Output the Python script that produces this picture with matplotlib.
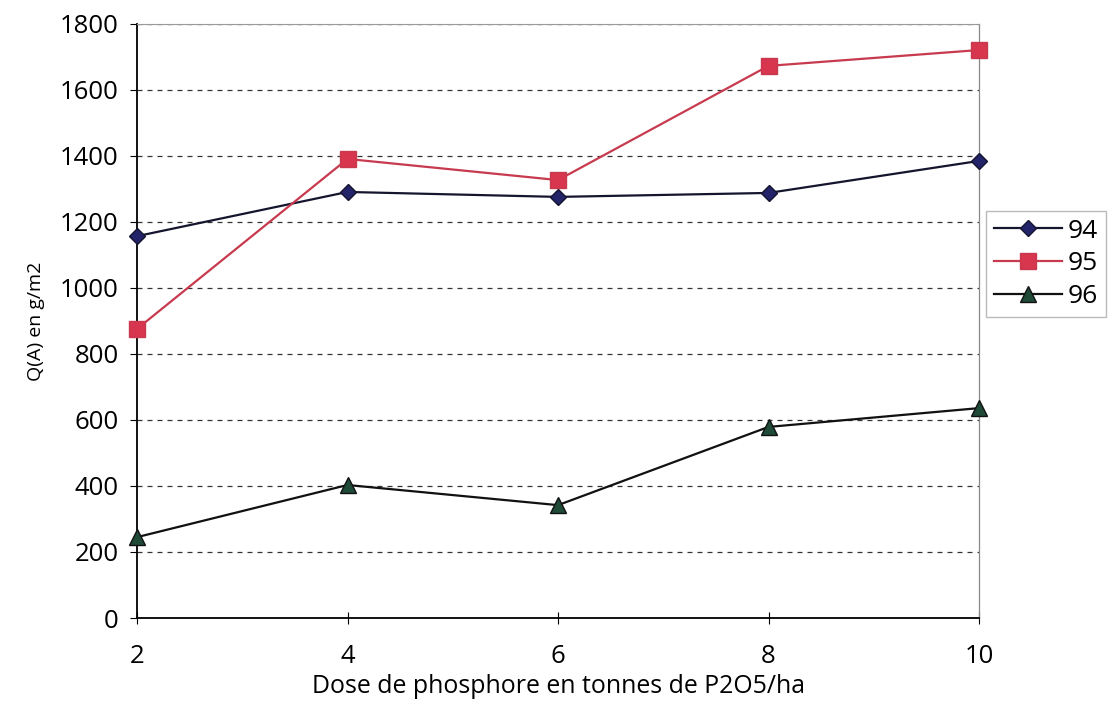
import matplotlib
matplotlib.use("Agg")
import matplotlib.pyplot as plt

plt.rcParams['font.family'] = ['Open Sans', 'DejaVu Sans']

doses = [2, 4, 6, 8, 10]
q94 = [1157, 1291, 1276, 1288, 1385]
q95 = [876, 1391, 1327, 1673, 1721]
q96 = [245, 403, 342, 579, 636]
yticks = list(range(0, 2000, 200))

fig = plt.figure(figsize=(11.12, 7.05), dpi=100)
ax = fig.add_axes([0.1232, 0.1234, 0.7572, 0.8426])

ax.plot(doses, q94, color='#15152e', lw=1.6, marker='D', ms=8, clip_on=False,
        markerfacecolor='#23236a', markeredgecolor='#15152e', label='94', zorder=3)
ax.plot(doses, q95, color='#c83a4e', lw=1.6, marker='s', ms=11, clip_on=False,
        markerfacecolor='#d8354f', markeredgecolor='#c83a4e', label='95', zorder=3)
ax.plot(doses, q96, color='#111111', lw=1.6, marker='^', ms=11, clip_on=False,
        markerfacecolor='#1f4a38', markeredgecolor='#111111', label='96', zorder=3)

ax.set_xlim(2, 10)
ax.set_ylim(0, 1800)
ax.set_xticks(doses)
ax.set_yticks(yticks)
ax.yaxis.grid(True, linestyle=(0, (4, 4)), color='#333333', lw=0.9)
ax.set_axisbelow(True)

ax.spines['right'].set_color('#888888')
ax.spines['right'].set_linewidth(0.9)
ax.spines['top'].set_color('#999999')
ax.spines['left'].set_linewidth(1.3)
ax.spines['bottom'].set_linewidth(1.3)

ax.tick_params(axis='y', direction='out', length=5, labelsize=17, pad=8)
ax.tick_params(axis='x', direction='inout', length=8, labelsize=17, pad=15)

xl = ax.set_xlabel('Dose de phosphore en tonnes de P2O5/ha', fontsize=16, labelpad=3)
yl = ax.set_ylabel('Q(A) en g/m2', fontsize=14, labelpad=11)

leg = ax.legend(loc='center left', bbox_to_anchor=(1.008, 0.596), fontsize=19,
                frameon=True, fancybox=False, edgecolor='#aaaaaa',
                handlelength=2.6, handletextpad=0.2, labelspacing=0.3,
                borderaxespad=0, borderpad=0.3)
leg.get_frame().set_linewidth(1.0)

# fit text sizes to the widths seen in the reference
fig.canvas.draw()
r = fig.canvas.get_renderer()
w = xl.get_window_extent(r).width
xl.set_fontsize(16 * 493 / w)
t = ax.get_yticklabels()[-1].get_window_extent(r).width
ax.tick_params(labelsize=17 * 59 / t)

fig.savefig('out.png', dpi=100)
